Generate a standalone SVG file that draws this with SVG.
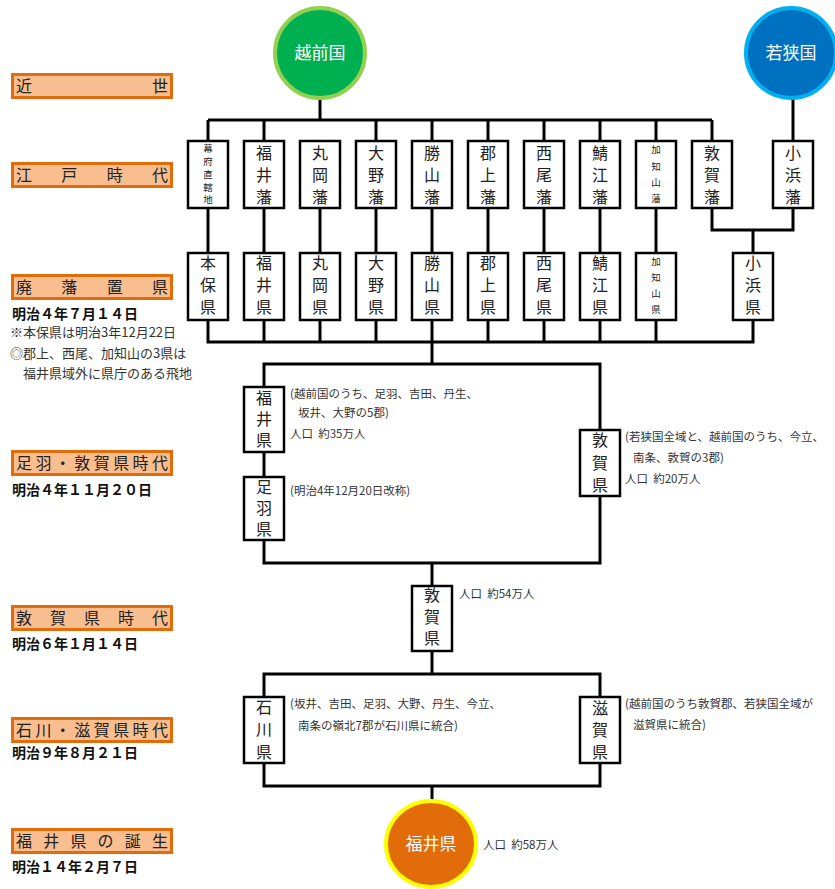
<svg xmlns="http://www.w3.org/2000/svg" width="835" height="889" viewBox="0 0 835 889">
<style>
.lbl rect{fill:#F9BE8F;stroke:#E36C0A;stroke-width:3}
.lbl text{font-family:"Noto Sans CJK JP","Liberation Sans",sans-serif;font-size:16px;fill:#222}
.date{font-family:"Noto Sans CJK JP","Liberation Sans",sans-serif;font-size:14px;font-weight:bold;fill:#111}
.note{font-family:"Noto Sans CJK JP","Liberation Sans",sans-serif;font-size:11.5px;fill:#333}
.lnote{font-family:"Noto Sans CJK JP","Liberation Sans",sans-serif;font-size:13px;fill:#333}
.box rect{fill:#fff;stroke:#000;stroke-width:2.5}
.box text{font-family:"Noto Sans CJK JP","Liberation Sans",sans-serif;font-size:16px;fill:#222;text-anchor:middle}
.box text.s{font-size:9.5px}
.circ text{font-family:"Noto Sans CJK JP","Liberation Sans",sans-serif;font-size:17px;fill:#fff;text-anchor:middle}
.conn{fill:none;stroke:#000;stroke-width:3}
</style>

<!-- period labels -->
<g id="lbl-kinsei" class="lbl"><rect x="12.5" y="74.5" width="159" height="23"/><text x="16" y="92" textLength="152" lengthAdjust="spacing">近世</text></g>
<g id="lbl-edo" class="lbl"><rect x="12.5" y="163.5" width="159" height="23"/><text x="16" y="181" textLength="152" lengthAdjust="spacing">江戸時代</text></g>
<g id="lbl-haihan" class="lbl"><rect x="12.5" y="275.5" width="159" height="23"/><text x="16" y="293" textLength="152" lengthAdjust="spacing">廃藩置県</text></g>
<g id="lbl-asuwa" class="lbl"><rect x="12.5" y="451.5" width="159" height="23"/><text x="16" y="469" textLength="152" lengthAdjust="spacing">足羽・敦賀県時代</text></g>
<g id="lbl-tsuruga" class="lbl"><rect x="12.5" y="606.5" width="159" height="23"/><text x="16" y="624" textLength="152" lengthAdjust="spacing">敦賀県時代</text></g>
<g id="lbl-ishikawa" class="lbl"><rect x="12.5" y="718.5" width="159" height="23"/><text x="16" y="736" textLength="152" lengthAdjust="spacing">石川・滋賀県時代</text></g>
<g id="lbl-fukui" class="lbl"><rect x="12.5" y="829.5" width="159" height="23"/><text x="16" y="847" textLength="152" lengthAdjust="spacing">福井県の誕生</text></g>

<text class="date" x="12" y="319">明治４年７月１４日</text>
<text class="lnote" x="10" y="337">※本保県は明治3年12月22日</text>
<text class="lnote" x="10" y="358">◎郡上、西尾、加知山の3県は</text>
<text class="lnote" x="23" y="378">福井県域外に県庁のある飛地</text>
<text class="date" x="12" y="495">明治４年１１月２０日</text>
<text class="date" x="12" y="649">明治６年１月１４日</text>
<text class="date" x="12" y="758">明治９年８月２１日</text>
<text class="date" x="12" y="872">明治１４年２月７日</text>

<!-- connectors -->
<g id="connectors" class="conn">
<path d="M320 99V120M208 120H712M208 120V141M264 120V141M376 120V141M432 120V141M488 120V141M544 120V141M600 120V141M656 120V141M712 120V141"/>
<path d="M793 99V141"/>
<path d="M208 208V253M264 208V253M320 208V253M376 208V253M432 208V253M488 208V253M544 208V253M600 208V253M656 208V253"/>
<path d="M712 208V230H793V208M753 230V253"/>
<path d="M208 320V342H753V320M264 320V342M320 320V342M376 320V342M432 320V342M488 320V342M544 320V342M600 320V342M656 320V342"/>
<path d="M432 342V364M264 387V364H600V430M264 452V477M264 540V563H600V496M432 563V586"/>
<path d="M432 651V674M264 697V674H600V697M264 763V786H600V763M432 786V800"/>
</g>

<!-- circles -->
<g id="echizen" class="circ"><circle cx="320" cy="53" r="45" fill="#00B050" stroke="#92D050" stroke-width="4"/><text x="320" y="59">越前国</text></g>
<g id="wakasa" class="circ"><circle cx="791" cy="53" r="45" fill="#0070C0" stroke="#00B0F0" stroke-width="4"/><text x="791" y="59">若狭国</text></g>
<g id="fukuiken" class="circ"><ellipse cx="431" cy="844" rx="45" ry="43" fill="#E36C0A" stroke="#FFFF00" stroke-width="4"/><text x="431" y="850">福井県</text></g>
<text class="note" x="483" y="849">人口&#160;&#160;約58万人</text>

<!-- Edo domains -->
<g id="bakufu" class="box"><rect x="188" y="141" width="40" height="67"/><text class="s" x="208" y="152">幕</text><text class="s" x="208" y="165">府</text><text class="s" x="208" y="178">直</text><text class="s" x="208" y="191">轄</text><text class="s" x="208" y="203">地</text></g>
<g id="fukui-han" class="box"><rect x="244" y="141" width="40" height="67"/><text x="264" y="159">福</text><text x="264" y="181">井</text><text x="264" y="203">藩</text></g>
<g id="maruoka-han" class="box"><rect x="300" y="141" width="40" height="67"/><text x="320" y="159">丸</text><text x="320" y="181">岡</text><text x="320" y="203">藩</text></g>
<g id="ono-han" class="box"><rect x="356" y="141" width="40" height="67"/><text x="376" y="159">大</text><text x="376" y="181">野</text><text x="376" y="203">藩</text></g>
<g id="katsuyama-han" class="box"><rect x="412" y="141" width="40" height="67"/><text x="432" y="159">勝</text><text x="432" y="181">山</text><text x="432" y="203">藩</text></g>
<g id="gujo-han" class="box"><rect x="468" y="141" width="40" height="67"/><text x="488" y="159">郡</text><text x="488" y="181">上</text><text x="488" y="203">藩</text></g>
<g id="nishio-han" class="box"><rect x="524" y="141" width="40" height="67"/><text x="544" y="159">西</text><text x="544" y="181">尾</text><text x="544" y="203">藩</text></g>
<g id="sabae-han" class="box"><rect x="580" y="141" width="40" height="67"/><text x="600" y="159">鯖</text><text x="600" y="181">江</text><text x="600" y="203">藩</text></g>
<g id="kachiyama-han" class="box"><rect x="636" y="141" width="40" height="67"/><text class="s" x="656" y="153">加</text><text class="s" x="656" y="170">知</text><text class="s" x="656" y="186">山</text><text class="s" x="656" y="202">藩</text></g>
<g id="tsuruga-han" class="box"><rect x="692" y="141" width="40" height="67"/><text x="712" y="159">敦</text><text x="712" y="181">賀</text><text x="712" y="203">藩</text></g>
<g id="obama-han" class="box"><rect x="773" y="141" width="40" height="67"/><text x="793" y="159">小</text><text x="793" y="181">浜</text><text x="793" y="203">藩</text></g>

<!-- prefectures 1871 -->
<g id="honbo-ken" class="box"><rect x="188" y="253" width="40" height="67"/><text x="208" y="269">本</text><text x="208" y="291">保</text><text x="208" y="313">県</text></g>
<g id="fukui-ken1" class="box"><rect x="244" y="253" width="40" height="67"/><text x="264" y="269">福</text><text x="264" y="291">井</text><text x="264" y="313">県</text></g>
<g id="maruoka-ken" class="box"><rect x="300" y="253" width="40" height="67"/><text x="320" y="269">丸</text><text x="320" y="291">岡</text><text x="320" y="313">県</text></g>
<g id="ono-ken" class="box"><rect x="356" y="253" width="40" height="67"/><text x="376" y="269">大</text><text x="376" y="291">野</text><text x="376" y="313">県</text></g>
<g id="katsuyama-ken" class="box"><rect x="412" y="253" width="40" height="67"/><text x="432" y="269">勝</text><text x="432" y="291">山</text><text x="432" y="313">県</text></g>
<g id="gujo-ken" class="box"><rect x="468" y="253" width="40" height="67"/><text x="488" y="269">郡</text><text x="488" y="291">上</text><text x="488" y="313">県</text></g>
<g id="nishio-ken" class="box"><rect x="524" y="253" width="40" height="67"/><text x="544" y="269">西</text><text x="544" y="291">尾</text><text x="544" y="313">県</text></g>
<g id="sabae-ken" class="box"><rect x="580" y="253" width="40" height="67"/><text x="600" y="269">鯖</text><text x="600" y="291">江</text><text x="600" y="313">県</text></g>
<g id="kachiyama-ken" class="box"><rect x="636" y="253" width="40" height="67"/><text class="s" x="656" y="265">加</text><text class="s" x="656" y="281">知</text><text class="s" x="656" y="297">山</text><text class="s" x="656" y="313">県</text></g>
<g id="obama-ken" class="box"><rect x="733" y="253" width="40" height="67"/><text x="753" y="269">小</text><text x="753" y="291">浜</text><text x="753" y="313">県</text></g>

<!-- Asuwa / Tsuruga period -->
<g id="fukui-ken2" class="box"><rect x="244" y="387" width="40" height="65"/><text x="264" y="404">福</text><text x="264" y="425">井</text><text x="264" y="446">県</text></g>
<text class="note" x="290" y="398">(越前国のうち、足羽、吉田、丹生、</text>
<text class="note" x="298" y="417">坂井、大野の5郡)</text>
<text class="note" x="290" y="438">人口&#160;&#160;約35万人</text>
<g id="asuwa-ken" class="box"><rect x="244" y="477" width="40" height="63"/><text x="264" y="493">足</text><text x="264" y="514">羽</text><text x="264" y="535">県</text></g>
<text class="note" x="290" y="495">(明治4年12月20日改称)</text>
<g id="tsuruga-ken1" class="box"><rect x="580" y="430" width="40" height="66"/><text x="600" y="446">敦</text><text x="600" y="469">賀</text><text x="600" y="491">県</text></g>
<text class="note" x="625" y="441">(若狭国全域と、越前国のうち、今立、</text>
<text class="note" x="633" y="462">南条、敦賀の3郡)</text>
<text class="note" x="625" y="483">人口&#160;&#160;約20万人</text>

<!-- Tsuruga period -->
<g id="tsuruga-ken2" class="box"><rect x="412" y="586" width="40" height="65"/><text x="432" y="601">敦</text><text x="432" y="623">賀</text><text x="432" y="644">県</text></g>
<text class="note" x="459" y="598">人口&#160;&#160;約54万人</text>

<!-- Ishikawa / Shiga period -->
<g id="ishikawa-ken" class="box"><rect x="244" y="697" width="40" height="66"/><text x="264" y="713">石</text><text x="264" y="735">川</text><text x="264" y="758">県</text></g>
<text class="note" x="290" y="708">(坂井、吉田、足羽、大野、丹生、今立、</text>
<text class="note" x="298" y="730">南条の嶺北7郡が石川県に統合)</text>
<g id="shiga-ken" class="box"><rect x="580" y="697" width="40" height="66"/><text x="600" y="714">滋</text><text x="600" y="736">賀</text><text x="600" y="758">県</text></g>
<text class="note" x="625" y="708">(越前国のうち敦賀郡、若狭国全域が</text>
<text class="note" x="633" y="729">滋賀県に統合)</text>
</svg>
